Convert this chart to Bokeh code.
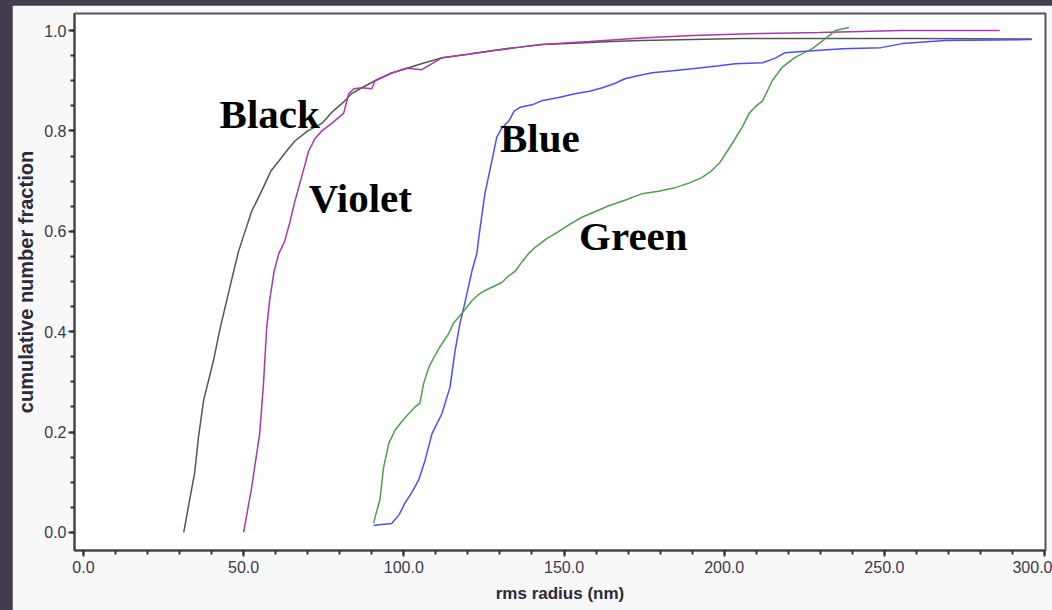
from bokeh.plotting import figure
from bokeh.models import Range1d, NumeralTickFormatter, SingleIntervalTicker, GlobalInlineStyleSheet
from bokeh.core.properties import value
from bokeh.embed import file_html
from bokeh.resources import INLINE

# ---- data ----
black_x = [31.3, 33.0, 34.7, 35.9, 37.5, 40.6, 42.5, 44.7, 46.5, 48.4, 52.5, 55.6, 58.5, 61.0, 63.4, 66.0,
           70.0, 74.4, 78.0, 81.6, 83.8, 86.9, 91.0, 96.0, 101.0, 106.0, 112.0, 120.0, 127.5, 135.0, 143.0,
           155.0, 165.0, 174.0, 190.0, 205.6, 230.0, 260.0, 296.0]
black_y = [0.0, 0.06, 0.118, 0.19, 0.263, 0.343, 0.402, 0.462, 0.51, 0.56, 0.64, 0.68, 0.72, 0.74, 0.76, 0.78,
           0.80, 0.815, 0.84, 0.86, 0.875, 0.886, 0.90, 0.915, 0.925, 0.935, 0.946, 0.953, 0.96, 0.966, 0.972,
           0.975, 0.978, 0.98, 0.982, 0.984, 0.984, 0.984, 0.983]

violet_x = [50.0, 52.5, 55.0, 56.2, 57.2, 58.1, 59.5, 61.0, 62.8, 64.5, 66.0, 68.6, 70.3, 72.3, 74.4, 77.5,
            81.2, 82.8, 84.4, 87.0, 90.0, 91.0, 96.0, 101.0, 105.6, 108.8, 112.0, 120.0, 127.5, 135.0, 143.0,
            158.0, 174.0, 190.0, 211.0, 230.0, 255.0, 286.0]
violet_y = [0.0, 0.09, 0.197, 0.297, 0.408, 0.462, 0.52, 0.556, 0.58, 0.62, 0.66, 0.72, 0.76, 0.785, 0.80, 0.815,
            0.835, 0.874, 0.884, 0.886, 0.884, 0.90, 0.915, 0.925, 0.922, 0.934, 0.946, 0.953, 0.96, 0.966, 0.972,
            0.978, 0.985, 0.99, 0.994, 0.996, 1.0, 1.0]

blue_x = [90.6, 93.0, 96.2, 98.5, 100.3, 102.5, 104.6, 106.6, 108.8, 111.9, 114.4, 116.0, 117.5, 119.0, 121.3,
          122.8, 123.4, 125.3, 127.5, 129.0, 130.5, 132.8, 134.5, 136.3, 140.0, 143.0, 148.0, 153.4, 158.0,
          162.0, 166.0, 169.0, 173.0, 177.5, 184.0, 190.0, 198.4, 203.4, 212.0, 216.0, 219.0, 227.5, 237.0,
          249.0, 255.6, 269.0, 296.0]
blue_y = [0.014, 0.016, 0.018, 0.035, 0.058, 0.08, 0.104, 0.143, 0.197, 0.237, 0.289, 0.362, 0.416, 0.456, 0.522,
          0.556, 0.588, 0.675, 0.741, 0.787, 0.805, 0.82, 0.84, 0.847, 0.852, 0.86, 0.866, 0.874, 0.879,
          0.886, 0.895, 0.904, 0.91, 0.916, 0.92, 0.924, 0.93, 0.934, 0.936, 0.945, 0.956, 0.96, 0.964,
          0.966, 0.974, 0.98, 0.982]

green_x = [90.6, 91.0, 92.5, 93.7, 95.3, 97.2, 99.5, 101.6, 103.5, 105.0, 106.2, 107.8, 109.5, 111.2, 114.0,
           115.6, 118.1, 121.3, 123.5, 125.3, 128.0, 130.6, 132.5, 134.7, 137.0, 139.0, 141.0, 144.5, 148.4,
           152.0, 155.6, 160.0, 164.0, 169.0, 174.4, 179.5, 184.7, 189.0, 193.0, 196.0, 198.4, 200.5, 202.5,
           205.6, 207.8, 210.0, 212.0, 215.0, 218.0, 222.0, 227.5, 231.6, 234.7, 239.0]
green_y = [0.018, 0.03, 0.064, 0.13, 0.177, 0.203, 0.222, 0.237, 0.25, 0.257, 0.297, 0.329, 0.35, 0.369, 0.396,
           0.418, 0.436, 0.462, 0.475, 0.482, 0.49, 0.498, 0.51, 0.52, 0.54, 0.556, 0.568, 0.585, 0.60,
           0.615, 0.628, 0.64, 0.651, 0.662, 0.675, 0.68, 0.687, 0.696, 0.707, 0.72, 0.735, 0.755, 0.775,
           0.807, 0.835, 0.85, 0.86, 0.9, 0.926, 0.946, 0.964, 0.984, 1.0, 1.006]

labels = ["Black", "Violet", "Blue", "Green"]
label_x = [42.5, 70.3, 130.0, 154.7]
label_y = [0.833, 0.667, 0.785, 0.59]

x_label = "rms radius (nm)"
y_label = "cumulative number fraction"

# ---- figure ----
p = figure(width=1040, height=605, output_backend="svg", toolbar_location=None,
           x_range=Range1d(-2.8, 300.3), y_range=Range1d(-0.036, 1.034),
           min_border_left=61, min_border_right=7, min_border_top=8, min_border_bottom=60)
p.margin = (5, 0, 0, 12)
p.stylesheets = [GlobalInlineStyleSheet(css="html, body { background-color: #463c4f; overflow: hidden; }")]

p.background_fill_color = "white"
p.border_fill_color = "#f8f8f8"
p.outline_line_color = "#555555"
p.outline_line_width = 2
p.grid.visible = False

p.line(black_x, black_y, line_color="#555555", line_width=1.5)
p.line(violet_x, violet_y, line_color="#a63aa6", line_width=1.5)
p.line(blue_x, blue_y, line_color="#4d4dff", line_width=1.5)
p.line(green_x, green_y, line_color="#4e9e4e", line_width=1.5)

p.text(x=label_x, y=label_y, text=labels, text_font=value("Liberation Serif"), text_font_style="bold",
       text_font_size="41px", text_color="black", text_align="left", text_baseline="alphabetic")

p.xaxis.ticker = SingleIntervalTicker(interval=50, num_minor_ticks=5)
p.yaxis.ticker = SingleIntervalTicker(interval=0.2, num_minor_ticks=4)
p.xaxis.formatter = NumeralTickFormatter(format="0.0")
p.yaxis.formatter = NumeralTickFormatter(format="0.0")

for ax in (p.xaxis, p.yaxis):
    ax.axis_line_color = "#444444"
    ax.axis_line_width = 2
    ax.major_tick_line_color = "#333333"
    ax.minor_tick_line_color = "#333333"
    ax.major_tick_line_width = 2
    ax.minor_tick_line_width = 2
    ax.major_tick_in = 0
    ax.minor_tick_in = 0
    ax.major_tick_out = 6
    ax.minor_tick_out = 4
    ax.major_label_text_font = "Liberation Sans"
    ax.major_label_text_font_size = "16px"
    ax.major_label_text_color = "#3a3a4a"
    ax.axis_label_text_font = "Liberation Sans"
    ax.axis_label_text_font_style = "bold"
    ax.axis_label_text_color = "#2a2a3a"

p.xaxis.axis_label = x_label
p.yaxis.axis_label = y_label
p.xaxis.axis_label_text_font_size = "17px"
p.yaxis.axis_label_text_font_size = "20px"
p.xaxis.major_label_standoff = 4
p.yaxis.major_label_standoff = 2
p.xaxis.axis_label_standoff = 8
p.yaxis.axis_label_standoff = 4

open("out.html", "w").write(file_html(p, INLINE))
